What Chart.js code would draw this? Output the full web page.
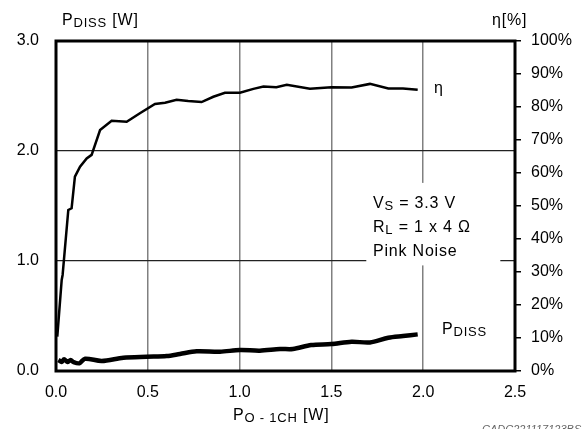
<!DOCTYPE html>
<html>
<head>
<meta charset="utf-8">
<script src="https://cdn.jsdelivr.net/npm/chart.js@4/dist/chart.umd.min.js"></script>
<style>
  html, body { margin: 0; padding: 0; background: #fff; }
  #wrap { width: 587px; height: 429px; position: relative; }
</style>
</head>
<body>
<div id="wrap"><canvas id="effChart" width="587" height="429"></canvas></div>
<script>
// values
const etaPower = [0.007, 0.031, 0.036, 0.067, 0.085, 0.103, 0.131, 0.167, 0.194, 0.24, 0.303, 0.385,
    0.457, 0.539, 0.594, 0.657, 0.72, 0.793, 0.857, 0.92, 1.002, 1.075, 1.13, 1.2, 1.257, 1.383,
    1.5, 1.61, 1.71, 1.81, 1.89, 1.97];
const etaValues = [10.4, 27.6, 29.1, 48.8, 49.3, 58.9, 61.9, 64.4, 65.5, 73, 75.8, 75.5,
    78.1, 80.9, 81.3, 82.2, 81.8, 81.5, 83.1, 84.3, 84.3, 85.5, 86.2, 86, 86.7, 85.5,
    86, 85.9, 87, 85.6, 85.6, 85.2];

const dissPower = [0.013, 0.031, 0.044, 0.062, 0.08, 0.094, 0.127, 0.158, 0.249, 0.367, 0.494, 0.603,
    0.675, 0.766, 0.893, 1.002, 1.11, 1.22, 1.29, 1.39, 1.5, 1.61, 1.71, 1.81, 1.89, 1.97];
const dissValues = [0.10, 0.082, 0.106, 0.082, 0.10, 0.082, 0.07, 0.112, 0.091, 0.121, 0.13, 0.136,
    0.155, 0.179, 0.175, 0.191, 0.185, 0.20, 0.20, 0.236, 0.245, 0.266, 0.26, 0.303, 0.318, 0.333];

const xTicks = [0, 0.5, 1.0, 1.5, 2.0, 2.5];
const pdissTicks = [0, 1.0, 2.0, 3.0];
const etaTicks = [0, 10, 20, 30, 40, 50, 60, 70, 80, 90, 100];

const FONT = 'Arial, "Liberation Sans", sans-serif';

// big letter + smaller subscript + optional rest, left aligned at x, baseline y
function drawSub(ctx, x, y, main, sub, rest) {
    ctx.textAlign = 'left';
    ctx.textBaseline = 'alphabetic';
    ctx.font = '16px ' + FONT;
    ctx.fillText(main, x, y);
    x += ctx.measureText(main).width;
    ctx.font = '13px ' + FONT;
    ctx.fillText(sub, x, y + 2);
    x += ctx.measureText(sub).width;
    if (rest) {
        ctx.font = '16px ' + FONT;
        ctx.fillText(rest, x, y);
        x += ctx.measureText(rest).width;
    }
    return x;
}

const annotations = {
    id: 'annotations',
    beforeDatasetsDraw(chart) {
        const ctx = chart.ctx;
        const xs = chart.scales.x, ys = chart.scales.y;
        // white box behind the conditions text, breaks the grid
        ctx.save();
        ctx.fillStyle = '#fff';
        ctx.fillRect(xs.getPixelForValue(1.69), ys.getPixelForValue(1.71),
            xs.getPixelForValue(2.42) - xs.getPixelForValue(1.69),
            ys.getPixelForValue(0.96) - ys.getPixelForValue(1.71));
        ctx.restore();
    },
    afterDraw(chart) {
        const ctx = chart.ctx;
        const a = chart.chartArea;
        ctx.save();
        // frame
        ctx.strokeStyle = '#000';
        ctx.lineWidth = 3;
        ctx.strokeRect(a.left, a.top, a.right - a.left, a.bottom - a.top);

        ctx.fillStyle = '#000';
        ctx.letterSpacing = '0.8px';
        drawSub(ctx, 62, 25, 'P', 'DISS', ' [W]');

        ctx.font = '16px ' + FONT;
        ctx.textAlign = 'left';
        ctx.fillText('η[%]', 492, 25);
        ctx.fillText('η', 434, 93);

        drawSub(ctx, 442, 334, 'P', 'DISS');

        drawSub(ctx, 373, 208, 'V', 'S', ' = 3.3 V');
        drawSub(ctx, 373, 232, 'R', 'L', ' = 1 x 4 Ω');
        ctx.font = '16px ' + FONT;
        ctx.fillText('Pink Noise', 373, 256);

        drawSub(ctx, 233, 420, 'P', 'O - 1CH', ' [W]');

        ctx.letterSpacing = '0px';
        ctx.fillStyle = '#666';
        ctx.font = 'italic 11px ' + FONT;
        ctx.fillText('CADC221117123BS', 482, 433);
        ctx.restore();
    }
};

const ctx = document.getElementById('effChart').getContext('2d');
const effChart = new Chart(ctx, {
    type: 'line',
    data: {
        datasets: [
            {
                label: 'η',
                data: etaPower.map((p, i) => ({ x: p, y: etaValues[i] })),
                yAxisID: 'y1',
                borderColor: '#000',
                borderWidth: 2.5,
                pointRadius: 0,
                tension: 0
            },
            {
                label: 'PDISS',
                data: dissPower.map((p, i) => ({ x: p, y: dissValues[i] })),
                yAxisID: 'y',
                borderColor: '#000',
                borderWidth: 4.5,
                pointRadius: 0,
                tension: 0.3
            }
        ]
    },
    options: {
        responsive: false,
        animation: false,
        devicePixelRatio: 1,
        layout: { padding: { top: 41, left: 0, right: 0, bottom: 0 } },
        plugins: {
            legend: { display: false },
            tooltip: { enabled: false }
        },
        scales: {
            x: {
                type: 'linear',
                min: 0,
                max: 2.5,
                afterFit: s => { s.height = 58; },
                afterBuildTicks: s => { s.ticks = xTicks.map(v => ({ value: v })); },
                ticks: {
                    autoSkip: false,
                    maxRotation: 0,
                    padding: 12,
                    color: '#000',
                    font: { size: 16, family: FONT },
                    callback: v => v.toFixed(1)
                },
                grid: {
                    drawTicks: false,
                    color: '#808080',
                    lineWidth: 1.5
                },
                border: { display: false }
            },
            y: {
                min: 0,
                max: 3,
                afterFit: s => { s.width = 56; },
                afterBuildTicks: s => { s.ticks = pdissTicks.map(v => ({ value: v })); },
                ticks: {
                    autoSkip: false,
                    padding: 17,
                    color: '#000',
                    font: { size: 16, family: FONT },
                    callback: v => v.toFixed(1)
                },
                grid: {
                    drawTicks: false,
                    color: '#222',
                    lineWidth: 1.2
                },
                border: { display: false }
            },
            y1: {
                position: 'right',
                min: 0,
                max: 100,
                afterFit: s => { s.width = 72; },
                afterBuildTicks: s => { s.ticks = etaTicks.map(v => ({ value: v })); },
                ticks: {
                    autoSkip: false,
                    padding: 10,
                    color: '#000',
                    font: { size: 16, family: FONT },
                    callback: v => v + '%'
                },
                grid: {
                    drawOnChartArea: false,
                    tickLength: 6,
                    color: '#000',
                    lineWidth: 1.5
                },
                border: { display: false }
            }
        }
    },
    plugins: [annotations]
});
</script>
</body>
</html>
